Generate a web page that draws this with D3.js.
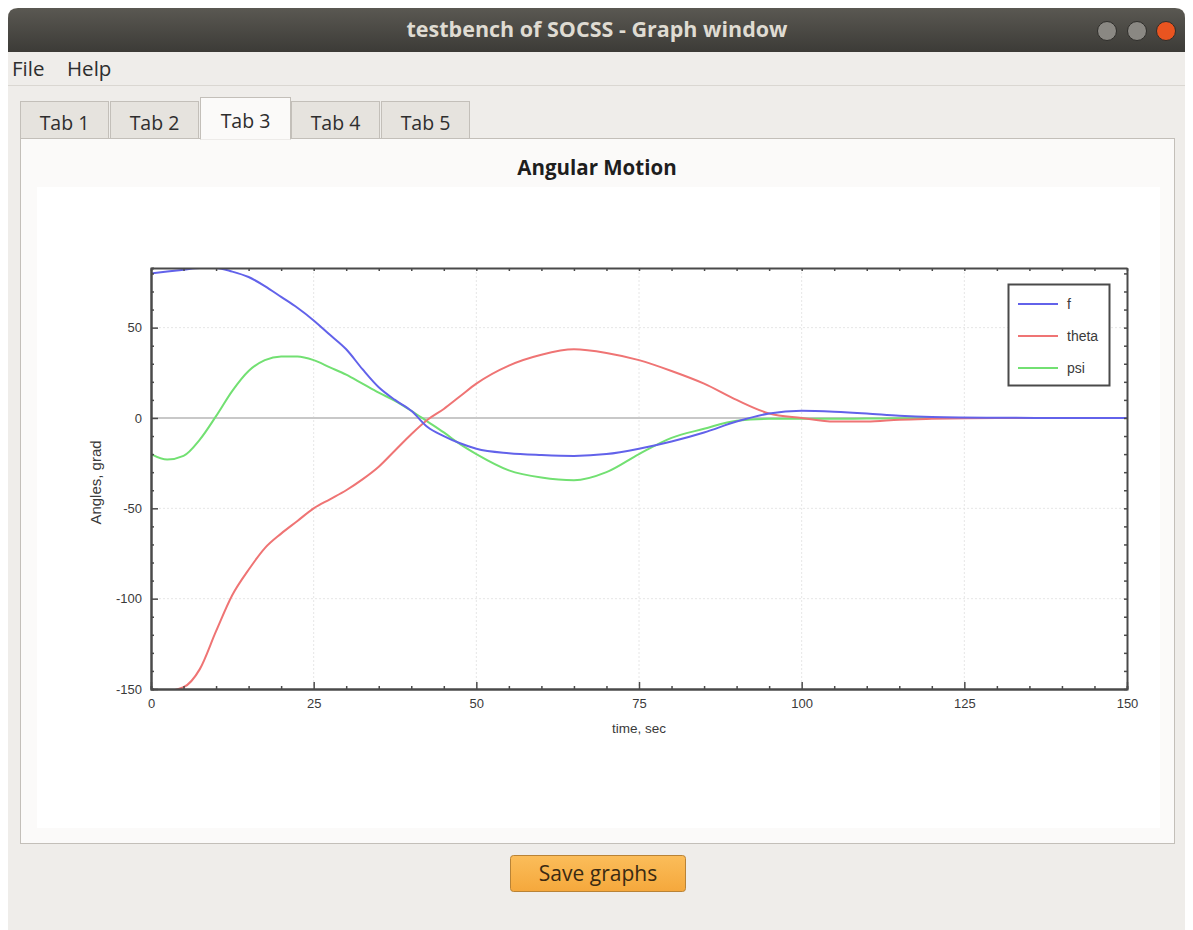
<!DOCTYPE html>
<html>
<head>
<meta charset="utf-8">
<script src="https://cdn.jsdelivr.net/npm/d3@7"></script>
<style>
  body { margin: 0; background: #ffffff; }
  svg { display: block; }
</style>
</head>
<body>
<div id="chart"></div>
<script>
// time axis, sec
const times = [0, 2.5, 5, 7.5, 10, 12.5, 15, 17.5, 20, 22.5, 25, 27.5, 30, 32.5, 35, 37.5, 40, 42.5, 45, 47.5, 50,
  55, 60, 65, 70, 75, 80, 85, 90, 95, 100, 105, 110, 115, 120, 130, 140, 150];
const fValues = [80, 81, 82, 83, 83, 81, 78, 73, 67, 61, 54, 46, 38, 27, 17, 10, 4, -5, -10, -14, -17,
  -19.5, -20.5, -21, -20, -17, -13, -8, -2, 2.5, 4, 3.5, 2.5, 1.2, 0.5, 0.1, 0, 0];
const thetaValues = [-151, -151, -149, -139, -118, -98, -84, -72, -64, -57, -50, -45, -40, -34, -27, -18, -9, -1, 5, 12, 19,
  29, 35, 38, 36, 32, 26, 19, 10, 2.5, 0, -2, -2, -1, -0.5, 0, 0, 0];
const psiValues = [-20, -23, -21, -12, 1, 15, 26, 32, 34, 34, 32, 28, 24, 19, 14, 9.5, 4, -2, -8, -14.5, -20,
  -29, -33, -34.5, -30, -20, -11, -6, -1.5, -0.5, -0.5, -0.5, -0.3, -0.2, 0, 0, 0, 0];

const seriesNames = ["f", "theta", "psi"];
const seriesColors = ["#6262ea", "#ef7474", "#72e072"];
const xTicks = [0, 25, 50, 75, 100, 125, 150];
const yTicks = [-150, -100, -50, 0, 50];
const tabLabels = ["Tab 1", "Tab 2", "Tab 3", "Tab 4", "Tab 5"];
const menuLabels = ["File", "Help"];

const width = 1193, height = 930;
const uiFont = "'Open Sans', 'Noto Sans', sans-serif";

const svg = d3.select("#chart").append("svg")
  .attr("width", width)
  .attr("height", height);

const defs = svg.append("defs");
const tg = defs.append("linearGradient").attr("id", "titlebar").attr("x1", 0).attr("x2", 0).attr("y1", 0).attr("y2", 1);
tg.append("stop").attr("offset", "0%").attr("stop-color", "#5a5852");
tg.append("stop").attr("offset", "100%").attr("stop-color", "#3c3b37");
const bg = defs.append("linearGradient").attr("id", "btn").attr("x1", 0).attr("x2", 0).attr("y1", 0).attr("y2", 1);
bg.append("stop").attr("offset", "0%").attr("stop-color", "#fbbd5a");
bg.append("stop").attr("offset", "100%").attr("stop-color", "#f5a83c");

// window body
svg.append("rect").attr("x", 8).attr("y", 8).attr("width", 1177).attr("height", 930)
  .attr("rx", 8).attr("fill", "#efedea");
// title bar
svg.append("path")
  .attr("d", "M8,52 L8,18 Q8,8 18,8 L1175,8 Q1185,8 1185,18 L1185,52 Z")
  .attr("fill", "url(#titlebar)");
svg.append("text").attr("x", 597).attr("y", 37).attr("text-anchor", "middle")
  .attr("font-family", uiFont).attr("font-weight", "bold").attr("font-size", 21.5)
  .attr("fill", "#dfdbd2").text("testbench of SOCSS - Graph window");
[["#8a8883", 1107], ["#8a8883", 1137], ["#e95420", 1166]].forEach(([c, cx]) => {
  svg.append("circle").attr("cx", cx).attr("cy", 31).attr("r", 9.5).attr("fill", c)
    .attr("stroke", "#2f2e2b").attr("stroke-width", 1);
});

// menu bar
menuLabels.forEach((m, i) => {
  svg.append("text").attr("x", [12, 67][i]).attr("y", 76)
    .attr("font-family", uiFont).attr("font-size", 20.5).attr("fill", "#2e2e2e").text(m);
});
svg.append("line").attr("x1", 8).attr("x2", 1185).attr("y1", 85.5).attr("y2", 85.5).attr("stroke", "#dad7d2");

// tab pane
svg.append("rect").attr("x", 20.5).attr("y", 138.5).attr("width", 1154).attr("height", 705)
  .attr("fill", "#fbfaf9").attr("stroke", "#c3bfb9");
const tabX = [20, 110, 200, 291, 381];
const tabW = [89, 89, 91, 89, 89];
tabLabels.forEach((t, i) => {
  const sel = i === 2;
  svg.append("rect")
    .attr("x", tabX[i] + 0.5).attr("y", sel ? 97.5 : 101.5)
    .attr("width", tabW[i] - 1).attr("height", sel ? 41.5 : 37)
    .attr("fill", sel ? "#fbfaf9" : "#e6e3de").attr("stroke", "#c3bfb9");
  svg.append("text").attr("x", tabX[i] + tabW[i] / 2).attr("y", sel ? 128 : 130)
    .attr("text-anchor", "middle").attr("font-family", uiFont).attr("font-size", 19.5)
    .attr("fill", "#2e2e2e").text(t);
});
svg.append("line").attr("x1", 201).attr("x2", 290).attr("y1", 138.5).attr("y2", 138.5).attr("stroke", "#fbfaf9").attr("stroke-width", 2);

// chart title and canvas
svg.append("text").attr("x", 597).attr("y", 175).attr("text-anchor", "middle")
  .attr("font-family", uiFont).attr("font-weight", "bold").attr("font-size", 20.5)
  .attr("fill", "#1e1e1e").text("Angular Motion");
svg.append("rect").attr("x", 37).attr("y", 187).attr("width", 1123).attr("height", 641).attr("fill", "#ffffff");

// save button
svg.append("rect").attr("x", 510.5).attr("y", 855.5).attr("width", 175).attr("height", 36).attr("rx", 3)
  .attr("fill", "url(#btn)").attr("stroke", "#b98336");
svg.append("text").attr("x", 598).attr("y", 881).attr("text-anchor", "middle")
  .attr("font-family", uiFont).attr("font-size", 21).attr("fill", "#3a2a12").text("Save graphs");

// ---- plot ----
const plot = { left: 151, right: 1127, top: 268, bottom: 689 };
const x = d3.scaleLinear().domain([0, 150]).range([plot.left, plot.right]);
const y = d3.scaleLinear().domain([-150, 83]).range([plot.bottom, plot.top]);

const plotFont = "'Liberation Sans', Arial, sans-serif";
const textColor = "#3a3a3a";
const g = svg.append("g");

// grid
g.append("g").selectAll("line").data(xTicks.slice(1, -1)).join("line")
  .attr("x1", d => x(d)).attr("x2", d => x(d)).attr("y1", plot.top).attr("y2", plot.bottom)
  .attr("stroke", "#e6e6e6").attr("stroke-dasharray", "2,2");
g.append("g").selectAll("line").data(yTicks.filter(d => d !== 0 && d !== -150)).join("line")
  .attr("x1", plot.left).attr("x2", plot.right).attr("y1", d => y(d)).attr("y2", d => y(d))
  .attr("stroke", "#e6e6e6").attr("stroke-dasharray", "2,2");
g.append("line").attr("x1", plot.left).attr("x2", plot.right).attr("y1", y(0)).attr("y2", y(0))
  .attr("stroke", "#c8c8c8").attr("stroke-width", 2);

// curves
defs.append("clipPath").attr("id", "plotclip").append("rect")
  .attr("x", plot.left).attr("y", plot.top).attr("width", plot.right - plot.left).attr("height", plot.bottom - plot.top);
const seriesValues = [fValues, thetaValues, psiValues];
const line = d3.line().x(d => x(d[0])).y(d => y(d[1])).curve(d3.curveMonotoneX);
const curves = g.append("g").attr("clip-path", "url(#plotclip)");
[2, 1, 0].forEach(i => {
  curves.append("path")
    .datum(times.map((t, k) => [t, seriesValues[i][k]]))
    .attr("fill", "none").attr("stroke", seriesColors[i]).attr("stroke-width", 2)
    .attr("d", line);
});

// axes: frame with major and minor ticks
const minorX = d3.range(0, 151, 5).filter(d => !xTicks.includes(d));
const minorY = d3.range(-150, 83, 10).filter(d => !yTicks.includes(d));
const axisColor = "#4a4a4a";
const plain = d => String(d);

function styleAxis(sel) {
  sel.selectAll(".domain").attr("stroke", axisColor).attr("stroke-width", 2);
  sel.selectAll(".tick line").attr("stroke", axisColor).attr("stroke-width", 1.5);
  sel.selectAll("text").attr("font-family", plotFont).attr("font-size", 13).attr("fill", textColor);
}

g.append("g").attr("transform", `translate(0,${plot.bottom})`)
  .call(d3.axisBottom(x).tickValues(xTicks).tickFormat(plain).tickSizeInner(-7).tickSizeOuter(0).tickPadding(10))
  .call(styleAxis);
g.append("g").attr("transform", `translate(0,${plot.bottom})`)
  .call(d3.axisBottom(x).tickValues(minorX).tickSize(-3).tickFormat(""))
  .call(styleAxis);
g.append("g").attr("transform", `translate(${plot.left},0)`)
  .call(d3.axisLeft(y).tickValues(yTicks).tickFormat(plain).tickSizeInner(-7).tickSizeOuter(0).tickPadding(9))
  .call(styleAxis);
g.append("g").attr("transform", `translate(${plot.left},0)`)
  .call(d3.axisLeft(y).tickValues(minorY).tickSize(-3).tickFormat(""))
  .call(styleAxis);
g.append("g").attr("transform", `translate(0,${plot.top})`)
  .call(d3.axisTop(x).tickValues(d3.range(0, 151, 5)).tickSize(-3).tickSizeOuter(0).tickFormat(""))
  .call(styleAxis);
g.append("g").attr("transform", `translate(${plot.right},0)`)
  .call(d3.axisRight(y).tickValues(d3.range(-150, 83, 10)).tickSize(-3).tickSizeOuter(0).tickFormat(""))
  .call(styleAxis);

// axis titles
g.append("text").attr("x", (plot.left + plot.right) / 2).attr("y", 733).attr("text-anchor", "middle")
  .attr("font-family", plotFont).attr("font-size", 13.5).attr("fill", textColor).text("time, sec");
g.append("text").attr("transform", `translate(101,${(plot.top + plot.bottom) / 2 + 4}) rotate(-90)`)
  .attr("text-anchor", "middle").attr("font-family", plotFont).attr("font-size", 15).attr("fill", textColor)
  .text("Angles, grad");

// legend
const legend = g.append("g").attr("transform", "translate(1008,284)");
legend.append("rect").attr("x", 0.5).attr("y", 0.5).attr("width", 101).attr("height", 101)
  .attr("fill", "#ffffff").attr("stroke", axisColor).attr("stroke-width", 2);
seriesNames.forEach((name, i) => {
  const ly = 20 + i * 32;
  legend.append("line").attr("x1", 10).attr("x2", 50).attr("y1", ly).attr("y2", ly)
    .attr("stroke", seriesColors[i]).attr("stroke-width", 2);
  legend.append("text").attr("x", 59).attr("y", ly + 5).attr("font-family", plotFont)
    .attr("font-size", 14).attr("fill", textColor).text(name);
});
</script>
</body>
</html>
